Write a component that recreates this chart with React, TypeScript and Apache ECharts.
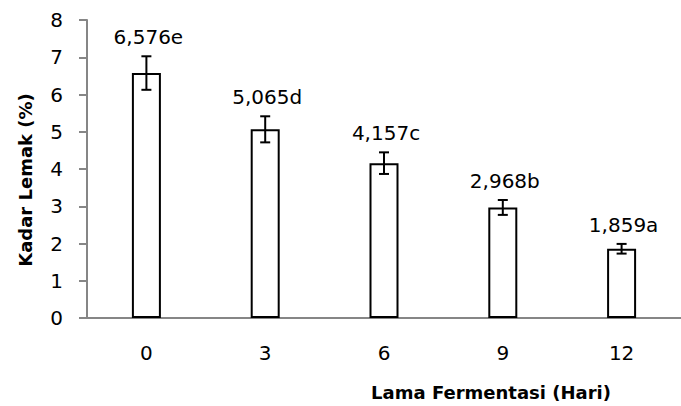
import React, { useEffect, useRef } from "react";
import * as echarts from "echarts";

const categories = ["0", "3", "6", "9", "12"];
const means = [6.576, 5.065, 4.157, 2.968, 1.859];
const errors = [0.45, 0.35, 0.29, 0.2, 0.13];
const letters = ["e", "d", "c", "b", "a"];
const yTicks = [0, 1, 2, 3, 4, 5, 6, 7, 8];

const FONT = "DejaVu Sans";

export default function App() {
  const ref = useRef<HTMLDivElement>(null);
  useEffect(() => {
    if (!ref.current) return;
    const chart = echarts.init(ref.current, undefined, { renderer: "svg" });
    const errData = means.map((m, i) => [i, m, errors[i]]);
    chart.setOption({
      animation: false,
      backgroundColor: "#ffffff",
      grid: { left: 87, top: 20, width: 605, height: 298 },
      xAxis: {
        type: "category",
        data: categories,
        axisLine: { lineStyle: { color: "#868686", width: 2 } },
        axisTick: { show: false },
        axisLabel: { color: "#000", fontFamily: FONT, fontSize: 20, margin: 25 },
      },
      yAxis: {
        type: "value",
        min: yTicks[0],
        max: yTicks[yTicks.length - 1],
        interval: 1,
        splitLine: { show: false },
        axisLine: { show: true, lineStyle: { color: "#868686", width: 2 } },
        axisTick: { show: true, length: 8, lineStyle: { color: "#868686", width: 2 } },
        axisLabel: { color: "#000", fontFamily: FONT, fontSize: 20, margin: 24 },
      },
      graphic: [
        {
          type: "text",
          x: 25,
          y: 180,
          rotation: Math.PI / 2,
          style: {
            text: "Kadar Lemak (%)",
            fontFamily: FONT,
            fontSize: 18,
            fontWeight: "bold",
            fill: "#000",
            align: "center",
            verticalAlign: "middle",
          },
        },
        {
          type: "text",
          x: 491,
          y: 392,
          style: {
            text: "Lama Fermentasi (Hari)",
            fontFamily: FONT,
            fontSize: 18,
            fontWeight: "bold",
            fill: "#000",
            align: "center",
            verticalAlign: "middle",
          },
        },
      ],
      series: [
        {
          type: "bar",
          data: means,
          barWidth: 29,
          itemStyle: { color: "#ffffff", borderColor: "#000", borderWidth: 2 },
        },
        {
          type: "custom",
          data: errData,
          z: 5,
          renderItem: (params: any, api: any) => {
            const idx = api.value(0);
            const m = api.value(1);
            const e = api.value(2);
            const top = api.coord([idx, m + e]);
            const bot = api.coord([idx, m - e]);
            const x = top[0];
            const hw = 5;
            const style = { stroke: "#000", lineWidth: 2 };
            return {
              type: "group",
              children: [
                { type: "line", shape: { x1: x, y1: top[1], x2: x, y2: bot[1] }, style },
                { type: "line", shape: { x1: x - hw, y1: top[1], x2: x + hw, y2: top[1] }, style },
                { type: "line", shape: { x1: x - hw, y1: bot[1], x2: x + hw, y2: bot[1] }, style },
                {
                  type: "text",
                  x: x + 2,
                  y: top[1] - 19,
                  style: {
                    text: m.toFixed(3).replace(".", ",") + letters[params.dataIndex],
                    fontFamily: FONT,
                    fontSize: 20,
                    fill: "#000",
                    align: "center",
                    verticalAlign: "middle",
                  },
                },
              ],
            };
          },
        },
      ],
    });
    return () => chart.dispose();
  }, []);
  return (
    <div
      ref={ref}
      style={{ position: "fixed", left: 0, top: 0, width: 681, height: 406, background: "#fff" }}
    />
  );
}
